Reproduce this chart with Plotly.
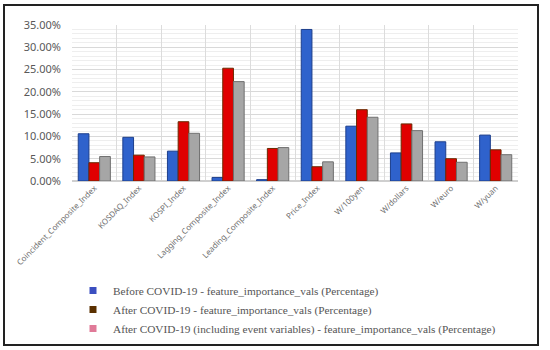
import plotly.graph_objects as go

categories = ["Coincident_Composite_Index", "KOSDAQ_Index", "KOSPI_Index",
              "Lagging_Composite_Index", "Leading_Composite_Index", "Price_Index",
              "W/100yen", "W/dollars", "W/euro", "W/yuan"]
before = [10.6, 9.8, 6.7, 0.8, 0.3, 34.0, 12.3, 6.3, 8.8, 10.3]
after = [4.1, 5.8, 13.3, 25.3, 7.3, 3.2, 16.0, 12.8, 5.0, 7.0]
after_event = [5.5, 5.4, 10.7, 22.3, 7.5, 4.3, 14.3, 11.3, 4.2, 5.9]

series_names = ["Before COVID-19 - feature_importance_vals (Percentage)",
                "After COVID-19 - feature_importance_vals (Percentage)",
                "After COVID-19 (including event variables) - feature_importance_vals (Percentage)"]
bar_colors = ["#2f62cc", "#e00000", "#a6a6a6"]
edge_colors = ["#1d3f8c", "#6b2a00", "#707070"]
legend_colors = ["#3b4fc0", "#5a3000", "#e07a98"]

W, H = 550, 350
L, R, T, B = 72, 32, 25, 169

fig = go.Figure()
for vals, c, e in zip([before, after, after_event], bar_colors, edge_colors):
    fig.add_trace(go.Bar(x=categories, y=vals,
                         marker=dict(color=c, line=dict(color=e, width=1)),
                         showlegend=False))
for name, c in zip(series_names, legend_colors):
    fig.add_trace(go.Scatter(x=[None], y=[None], name=name, mode="markers",
                             marker=dict(color=c, symbol="square", size=7)))

fig.add_shape(type="rect", xref="paper", yref="paper",
              x0=(4 - L) / (W - L - R), x1=(538 - L) / (W - L - R),
              y0=(H - B - 345) / (H - T - B), y1=(H - B - 5) / (H - T - B),
              line=dict(color="#222222", width=2), layer="above")

fig.update_layout(
    width=W, height=H,
    margin=dict(l=L, r=R, t=T, b=B, autoexpand=False),
    paper_bgcolor="white", plot_bgcolor="white",
    barmode="group", bargap=0.28, bargroupgap=0.0,
    font=dict(family="Noto Sans", color="#595959"),
    xaxis=dict(tickangle=-45, tickfont=dict(family="Noto Sans", size=8, color="#707070"),
               showgrid=True, gridcolor="#dcdcdc", tickson="boundaries", automargin=False,
               showline=False, ticks="", range=[-0.5, 9.5]),
    yaxis=dict(range=[0, 35], dtick=5, tickformat=".2f", ticksuffix="%", automargin=False,
               tickfont=dict(size=11, color="#595959"), ticklabelstandoff=10,
               gridcolor="#d9d9d9", gridwidth=1, zeroline=True, zerolinecolor="#cfcfcf",
               minor=dict(dtick=1, showgrid=True, gridcolor="#eeeeee"),
               showline=False),
    legend=dict(xref="container", yref="container", x=73 / W, xanchor="left",
                y=1 - 276 / H, yanchor="top",
                font=dict(family="Liberation Serif", size=11.3, color="#555555"),
                tracegroupgap=0, itemwidth=30, bgcolor="rgba(0,0,0,0)"),
)
fig.write_html("out.html", config={"displayModeBar": False},
               post_script="document.body.style.margin='0';")
